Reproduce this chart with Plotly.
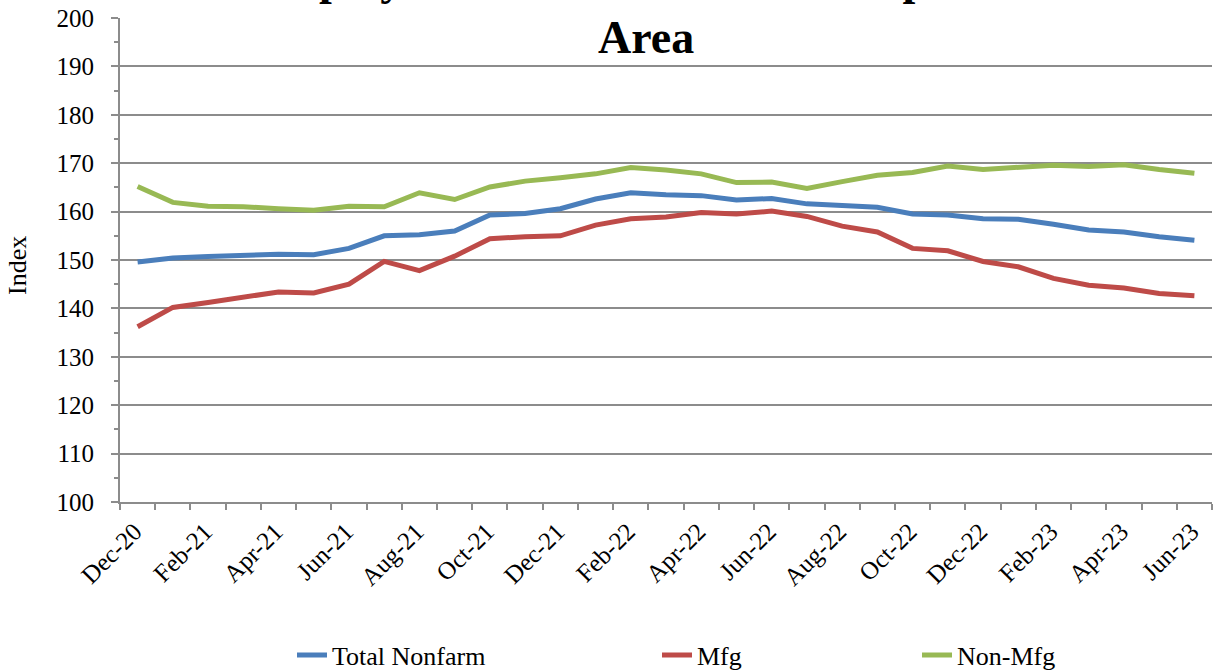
import plotly.graph_objects as go

months = ["Dec-20", "Jan-21", "Feb-21", "Mar-21", "Apr-21", "May-21", "Jun-21", "Jul-21",
          "Aug-21", "Sep-21", "Oct-21", "Nov-21", "Dec-21", "Jan-22", "Feb-22", "Mar-22",
          "Apr-22", "May-22", "Jun-22", "Jul-22", "Aug-22", "Sep-22", "Oct-22", "Nov-22",
          "Dec-22", "Jan-23", "Feb-23", "Mar-23", "Apr-23", "May-23", "Jun-23"]

total_nonfarm = [149.6, 150.4, 150.7, 151.0, 151.2, 151.1, 152.4, 155.0, 155.2, 156.0,
                 159.3, 159.6, 160.6, 162.6, 163.9, 163.5, 163.3, 162.4, 162.7, 161.6,
                 161.2, 160.9, 159.5, 159.3, 158.5, 158.4, 157.4, 156.2, 155.8, 154.8, 154.1]

mfg = [136.2, 140.2, 141.2, 142.3, 143.4, 143.2, 145.0, 149.7, 147.8, 150.8,
       154.4, 154.8, 155.0, 157.2, 158.5, 158.9, 159.8, 159.5, 160.1, 159.0,
       157.0, 155.8, 152.4, 151.9, 149.7, 148.6, 146.2, 144.8, 144.2, 143.1, 142.6]

non_mfg = [165.2, 161.9, 161.1, 161.0, 160.6, 160.3, 161.1, 161.0, 163.9, 162.5,
           165.1, 166.3, 167.0, 167.8, 169.1, 168.6, 167.8, 166.0, 166.1, 164.8,
           166.2, 167.5, 168.1, 169.4, 168.7, 169.1, 169.6, 169.3, 169.7, 168.7, 167.9]

series_names = ["Total Nonfarm", "Mfg", "Non-Mfg"]
series_colors = ["#4A7EBB", "#BE4B48", "#98B954"]
legend_ids = ["legend", "legend2", "legend3"]

x_idx = list(range(len(months)))
label_idx = x_idx[::2]
label_text = [months[i] for i in label_idx]

FONT = "Liberation Serif, Times New Roman, serif"
GRID = "#8C8C8C"

fig = go.Figure()
for name, vals, col, lg in zip(series_names, [total_nonfarm, mfg, non_mfg], series_colors, legend_ids):
    fig.add_trace(go.Scatter(x=x_idx, y=vals, mode="lines", name=name,
                             line=dict(color=col, width=5), legend=lg))

W, H = 1225, 671
ml, mr, mt, mb = 120, 13, 18, 169
pw = W - ml - mr
ph = H - mt - mb

def px_x(p):
    return (p - ml) / pw

def px_y(p):
    return (H - mb - p) / ph

leg_common = dict(orientation="h", yanchor="middle", xanchor="left",
                  font=dict(family=FONT, size=26, color="#000000"),
                  bgcolor="rgba(0,0,0,0)", y=px_y(655))

fig.update_layout(
    width=W, height=H,
    margin=dict(l=ml, r=mr, t=mt, b=mb, autoexpand=False),
    paper_bgcolor="white", plot_bgcolor="white",
    font=dict(family=FONT, size=24, color="#000000"),
    showlegend=True,
    legend=dict(leg_common, x=px_x(292)),
    legend2=dict(leg_common, x=px_x(657)),
    legend3=dict(leg_common, x=px_x(917)),
    xaxis=dict(
        range=[-0.5, len(months) - 0.5],
        tickmode="array", tickvals=label_idx, ticktext=label_text,
        tickangle=-45, ticks="", showgrid=False, zeroline=False,
        showline=True, linecolor=GRID, linewidth=2,
        tickfont=dict(family=FONT, size=25),
        ticklabelstandoff=3, ticklabelshift=-3, automargin=False,
        minor=dict(ticks="outside", tick0=-0.5, dtick=1, ticklen=6,
                   tickcolor=GRID, tickwidth=2, showgrid=False),
    ),
    yaxis=dict(
        range=[100, 200], dtick=10, tick0=100,
        ticks="outside", ticklen=7, tickcolor=GRID, tickwidth=2,
        showgrid=True, gridcolor=GRID, gridwidth=1.5,
        zeroline=False, showline=True, linecolor=GRID, linewidth=2,
        tickfont=dict(family=FONT, size=25),
        ticklabelstandoff=12, automargin=False,
        minor=dict(ticks="outside", dtick=5, ticklen=4, tickcolor=GRID,
                   tickwidth=2, showgrid=False),
    ),
)

fig.add_annotation(text="Index", xref="paper", yref="paper",
                   x=px_x(17), y=px_y(266), textangle=-90, showarrow=False,
                   xanchor="center", yanchor="middle",
                   font=dict(family=FONT, size=26, color="#000000"))

fig.add_annotation(text="<b>Employment Index for the Metropolitan</b>", xref="paper", yref="paper",
                   x=px_x(645), y=px_y(-22), showarrow=False,
                   xanchor="center", yanchor="middle",
                   font=dict(family=FONT, size=46, color="#000000"))
fig.add_annotation(text="<b>Area</b>", xref="paper", yref="paper",
                   x=px_x(646), y=px_y(37), showarrow=False,
                   xanchor="center", yanchor="middle",
                   font=dict(family=FONT, size=46, color="#000000"))

fig.write_html("out.html", config={"displayModeBar": False},
               post_script="document.body.style.margin='0';document.body.style.overflow='hidden';")
